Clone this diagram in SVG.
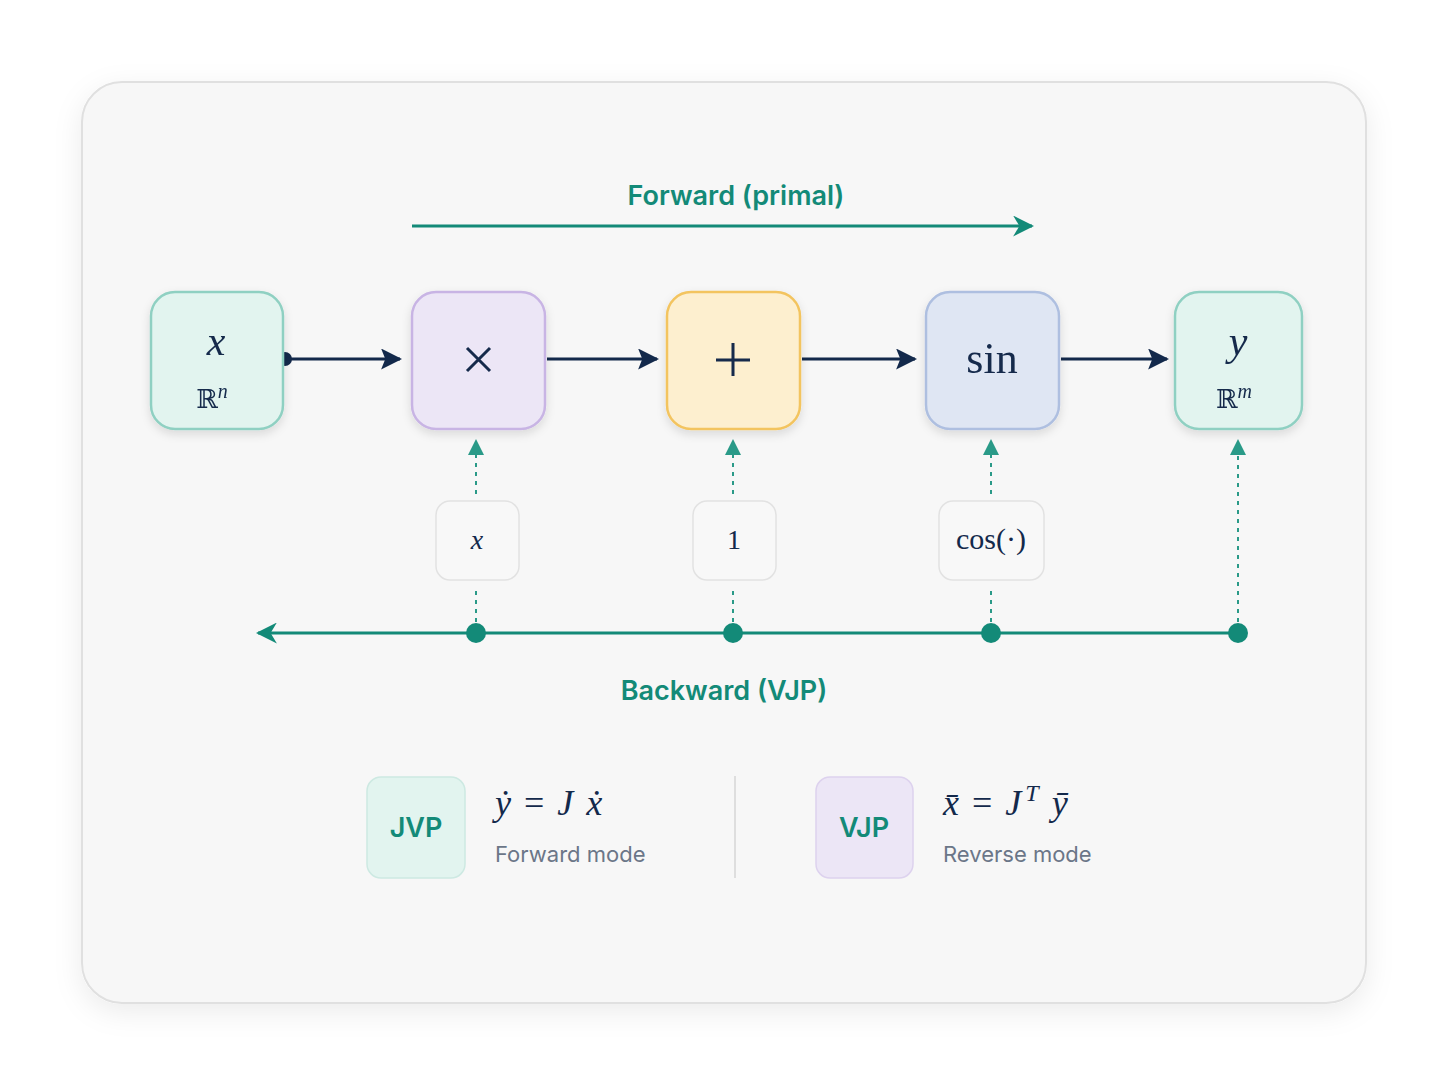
<svg xmlns="http://www.w3.org/2000/svg" width="1448" height="1086" viewBox="0 0 1448 1086">
<defs>
<style>
.m{font-family:"Liberation Serif","DejaVu Serif",serif;font-style:italic;fill:#13294b}
.r{font-family:"Liberation Serif","DejaVu Serif",serif;fill:#13294b}
.s{font-family:Inter,"Open Sans",sans-serif;font-weight:600;fill:#138a78}
.g{font-family:Inter,"Open Sans",sans-serif;fill:#6b7688;font-size:22px}
.node{stroke-width:2.5}
.dl{stroke:#2a9a88;stroke-width:2;stroke-dasharray:4 5;fill:none}
.sb{fill:#f8f8f8;stroke:#e2e2e2;stroke-width:1.5}
</style>
<marker id="ah" viewBox="0 0 10 10" refX="9" refY="5" markerWidth="7" markerHeight="7" orient="auto"><path d="M0,0 L10,5 L0,10 L2,5 z" fill="#13294b"/></marker>
<marker id="ta" viewBox="0 0 10 10" refX="9" refY="5" markerWidth="7" markerHeight="7" orient="auto"><path d="M0,0 L10,5 L0,10 L3,5 z" fill="#138a78"/></marker>
<filter id="sh" x="-10%" y="-10%" width="120%" height="120%"><feDropShadow dx="0" dy="8" stdDeviation="14" flood-opacity="0.08"/></filter>
<filter id="ns" x="-20%" y="-20%" width="140%" height="140%"><feDropShadow dx="0" dy="4" stdDeviation="5" flood-opacity="0.12"/></filter>
</defs>
<rect width="1448" height="1086" fill="#ffffff"/>
<rect x="82" y="82" width="1284" height="921" rx="40" fill="#f7f7f7" stroke="#e0e0e0" stroke-width="2" filter="url(#sh)"/>

<g id="connectors">
<text x="736" y="205" class="s" font-size="27" text-anchor="middle">Forward (primal)</text>
<line x1="412" y1="226" x2="1032" y2="226" stroke="#138a78" stroke-width="3" marker-end="url(#ta)"/>
<circle cx="285" cy="359" r="7" fill="#13294b"/>
<line x1="285" y1="359" x2="400" y2="359" stroke="#13294b" stroke-width="3" marker-end="url(#ah)"/>
<line x1="547" y1="359" x2="657" y2="359" stroke="#13294b" stroke-width="3" marker-end="url(#ah)"/>
<line x1="802" y1="359" x2="915" y2="359" stroke="#13294b" stroke-width="3" marker-end="url(#ah)"/>
<line x1="1061" y1="359" x2="1167" y2="359" stroke="#13294b" stroke-width="3" marker-end="url(#ah)"/>
<line x1="1238" y1="633" x2="258" y2="633" stroke="#138a78" stroke-width="3" marker-end="url(#ta)"/>
<path class="dl" d="M476,622 V588 M476,494 V446 M733,622 V588 M733,494 V446 M991,622 V588 M991,494 V446 M1238,622 V446"/>
<path d="M468,455 L476,439 L484,455 z M725,455 L733,439 L741,455 z M983,455 L991,439 L999,455 z M1230,455 L1238,439 L1246,455 z" fill="#2a9a88"/>
<circle cx="476" cy="633" r="10" fill="#138a78"/>
<circle cx="733" cy="633" r="10" fill="#138a78"/>
<circle cx="991" cy="633" r="10" fill="#138a78"/>
<circle cx="1238" cy="633" r="10" fill="#138a78"/>
<text x="724" y="700" class="s" font-size="27" text-anchor="middle">Backward (VJP)</text>
</g>

<g id="node-x" filter="url(#ns)">
<rect x="151" y="292" width="132" height="137" rx="24" fill="#e2f4ef" stroke="#8fd0c2" class="node"/>
<text x="216" y="355" class="m" font-size="42" text-anchor="middle">x</text>
<text x="212" y="408" class="r" font-size="26" text-anchor="middle" fill="#4a5a70">ℝ<tspan font-style="italic" font-size="20" dy="-10">n</tspan></text>
</g>
<g id="node-mul" filter="url(#ns)">
<rect x="412" y="292" width="133" height="137" rx="24" fill="#ece6f6" stroke="#c8b4e4" class="node"/>
<path d="M467,348 L490,371 M490,348 L467,371" stroke="#13294b" stroke-width="3"/>
</g>
<g id="node-add" filter="url(#ns)">
<rect x="667" y="292" width="133" height="137" rx="24" fill="#fdefcf" stroke="#f3c45f" class="node"/>
<path d="M733,343 V376 M716,360 H750" stroke="#13294b" stroke-width="3"/>
</g>
<g id="node-sin" filter="url(#ns)">
<rect x="926" y="292" width="133" height="137" rx="24" fill="#dfe6f3" stroke="#aebfe0" class="node"/>
<text x="992" y="373" class="r" font-size="44" text-anchor="middle">sin</text>
</g>
<g id="node-y" filter="url(#ns)">
<rect x="1175" y="292" width="127" height="137" rx="24" fill="#e2f4ef" stroke="#8fd0c2" class="node"/>
<text x="1238" y="355" class="m" font-size="42" text-anchor="middle">y</text>
<text x="1234" y="408" class="r" font-size="26" text-anchor="middle" fill="#4a5a70">ℝ<tspan font-style="italic" font-size="20" dy="-10">m</tspan></text>
</g>

<g id="d-x"><rect x="436" y="501" width="83" height="79" rx="14" class="sb"/><text x="477" y="549" class="m" font-size="28" text-anchor="middle">x</text></g>
<g id="d-1"><rect x="693" y="501" width="83" height="79" rx="14" class="sb"/><text x="734" y="549" class="r" font-size="28" text-anchor="middle">1</text></g>
<g id="d-cos"><rect x="939" y="501" width="105" height="79" rx="14" class="sb"/><text x="991" y="549" class="r" font-size="30" text-anchor="middle">cos(·)</text></g>

<g id="legend-jvp">
<rect x="367" y="777" width="98" height="101" rx="14" fill="#e2f4ef" stroke="#cde9e2" stroke-width="1.5"/>
<text x="416" y="837" class="s" font-size="27" text-anchor="middle">JVP</text>
<text x="495" y="815" class="m" font-size="36" word-spacing="4">ẏ <tspan font-style="normal">=</tspan> J ẋ</text>
<text x="495" y="862" class="g">Forward mode</text>
</g>
<line x1="735" y1="776" x2="735" y2="878" stroke="#dedede" stroke-width="2"/>
<g id="legend-vjp">
<rect x="816" y="777" width="97" height="101" rx="14" fill="#ece6f6" stroke="#ddd2ee" stroke-width="1.5"/>
<text x="864" y="837" class="s" font-size="27" text-anchor="middle">VJP</text>
<text x="943" y="815" class="m" font-size="36" word-spacing="4">x̄ <tspan font-style="normal">=</tspan> J<tspan font-size="24" dy="-14" dx="4">T</tspan><tspan dy="14"> ȳ</tspan></text>
<text x="943" y="862" class="g">Reverse mode</text>
</g>
</svg>
